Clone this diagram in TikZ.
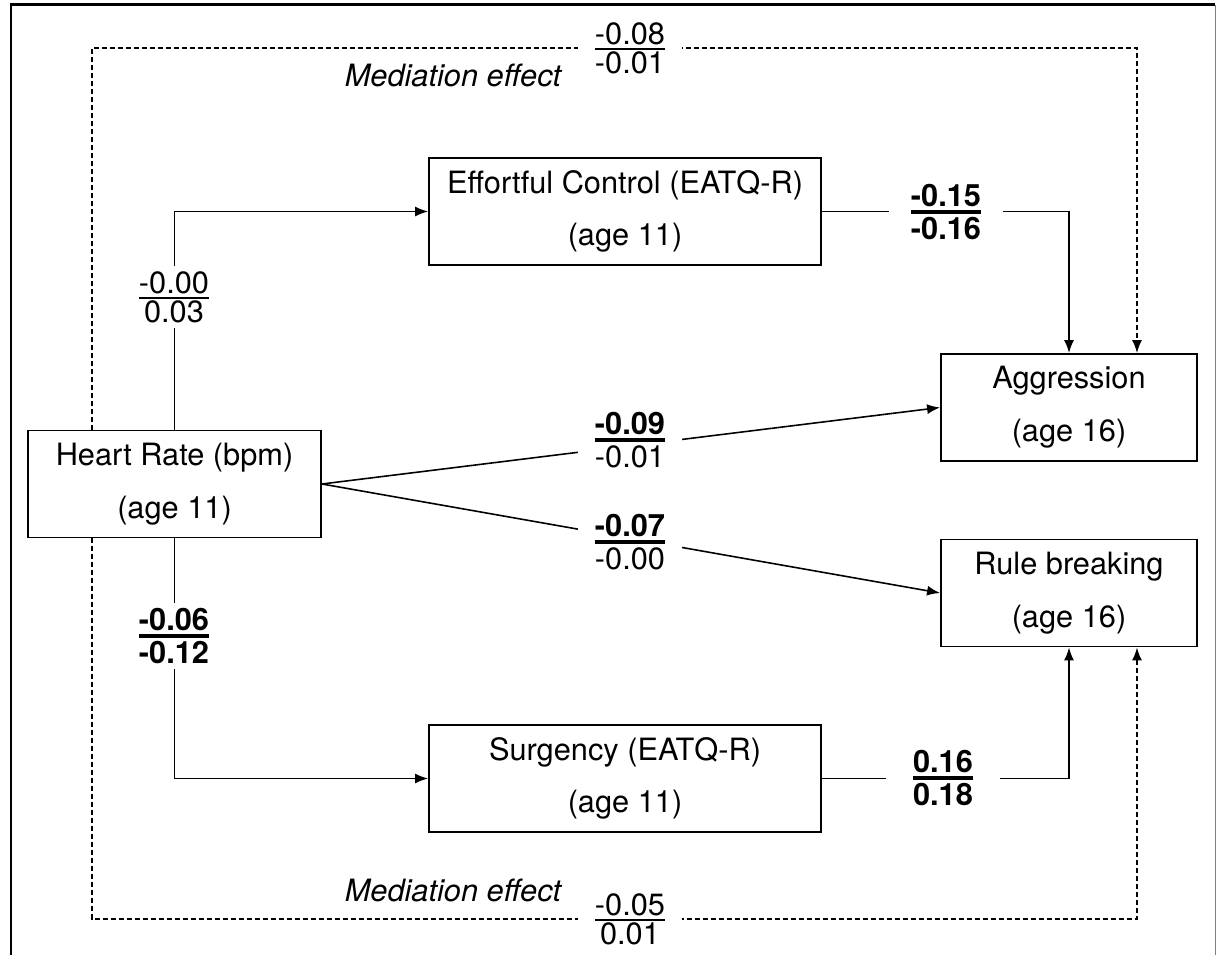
\documentclass[tikz,border=0pt]{standalone}
\usepackage{amsmath}
\usepackage{fontspec}
\setmainfont{TeX Gyre Heros}
\usetikzlibrary{arrows.meta}
\newcommand{\coef}[3]{$\genfrac{}{}{#1}{1}{\mbox{#2}}{\mbox{#3}}$}

\begin{document}
\begin{tikzpicture}[x=0.02cm, y=-0.02cm]
\tikzset{boite/.style={draw, line width=1.1pt, fill=white, minimum height=2.14cm, align=center, font=\fontsize{17.5}{30}\selectfont},
  etiq/.style={fill=white, inner xsep=0.3cm, inner ysep=0.1cm, font=\fontsize{17.5}{20}\selectfont},
  fleche/.style={line width=0.9pt, -{Latex[length=0.26cm, width=0.2cm]}},
  mediation/.style={fleche, dash pattern=on 0.1cm off 0.06cm}}
\useasboundingbox (0,0) rectangle (1217,955);
\draw[line width=1.7pt] (11,955) -- (11,5) -- (1215,5);
\draw[gray, line width=0.5pt] (1215,5) -- (1215,955);
\node[boite, minimum width=5.86cm] (hr) at (174.5,484) {Heart Rate (bpm)\\(age 11)};
\node[boite, minimum width=7.84cm] (ec) at (625,211.5) {Effortful Control (EATQ-R)\\(age 11)};
\node[boite, minimum width=7.84cm] (sg) at (625,778.5) {Surgency (EATQ-R)\\(age 11)};
\node[boite, minimum width=5.12cm] (ag) at (1069,407.5) {Aggression\\(age 16)};
\node[boite, minimum width=5.12cm] (rb) at (1069,593) {Rule breaking\\(age 16)};
\coordinate (mh) at (92,48);
\coordinate (mb) at (92,919);
\coordinate (ma) at ([xshift=1.36cm]ag.north);
\coordinate (mr) at ([xshift=1.36cm]rb.south);
\draw[fleche] (hr.north) -- (hr.north |- ec.west) -- (ec.west);
\draw[fleche] (hr.south) -- (hr.south |- sg.west) -- (sg.west);
\draw[fleche] (ec.east) -- (ec.east -| ag.north) -- (ag.north);
\draw[fleche] (sg.east) -- (sg.east -| rb.south) -- (rb.south);
\draw[fleche] (hr.east) -- (ag.west);
\draw[fleche] (hr.east) -- (rb.west);
\draw[mediation] (hr.north -| mh) -- (mh) -- (mh -| ma) -- (ma);
\draw[mediation] (hr.south -| mb) -- (mb) -- (mb -| mr) -- (mr);
\node[etiq] (c1) at (174,297) {\coef{1pt}{-0.00}{0.03}};
\node[etiq] (c2) at (174,636) {\coef{2pt}{\bfseries -0.06}{\bfseries -0.12}};
\node[etiq, inner xsep=0.4cm] (c3) at (946,212) {\coef{2pt}{\bfseries -0.15}{\bfseries -0.16}};
\node[etiq, inner xsep=0.5cm] (c4) at (943,778) {\coef{2pt}{\bfseries 0.16}{\bfseries 0.18}};
\node[etiq] (c5) at (630,440) {\coef{2pt}{\bfseries -0.09}{-0.01}};
\node[etiq] (c6) at (630,542) {\coef{2pt}{\bfseries -0.07}{-0.00}};
\node[etiq] (c7) at (630,48) {\coef{1pt}{-0.08}{-0.01}};
\node[etiq] (c8) at (630,919) {\coef{1pt}{-0.05}{0.01}};
\node[font=\fontsize{17.5}{20}\selectfont\itshape] (m1) at (453,75) {Mediation effect};
\node[font=\fontsize{17.5}{20}\selectfont\itshape] (m2) at (453,890) {Mediation effect};
\end{tikzpicture}
\end{document}
